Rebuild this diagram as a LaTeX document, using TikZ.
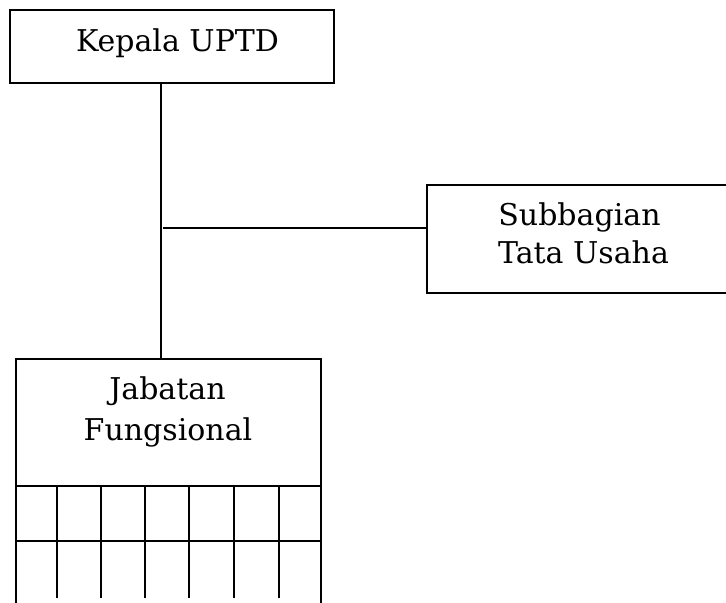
\documentclass[tikz,border=0pt]{standalone}
\usepackage{fontspec}
\setmainfont{DejaVu Serif}
\begin{document}
\begin{tikzpicture}[x=0.5pt,y=-0.5pt,
  box/.style={draw=black, line width=1pt, rectangle, inner sep=0pt},
  lbl/.style={font=\fontsize{15}{19}\selectfont, inner sep=0pt, anchor=base},
  conn/.style={draw=black, line width=1pt},
  grid/.style={draw=black, line width=1pt}]
\useasboundingbox (0,0) rectangle (726,603);
\clip (0,0) rectangle (726,603);
% boxes
\node[box, minimum width=162pt, minimum height=36.5pt] (kepala) at (172,46.5) {};
\node[box, minimum width=170pt, minimum height=54pt] (subbag) at (597,239) {};
\node[box, minimum width=152.5pt, minimum height=140.5pt] (jab) at (168.5,499.5) {};
% labels
\node[lbl] (kepalaT) at (177.5,52) {Kepala UPTD};
\node[lbl] (subT1) at (579.5,226) {Subbagian};
\node[lbl] (subT2) at (583.5,264) {Tata Usaha};
\node[lbl] (jabT1) at (167.5,399) {Jabatan};
\node[lbl] (jabT2) at (168,440) {Fungsional};
% grid inside Jabatan Fungsional
\coordinate (g1) at (0,486);
\coordinate (g2) at (0,541);
\draw[grid] (jab.west |- g1) -- (jab.east |- g1);
\draw[grid] (jab.west |- g2) -- (jab.east |- g2);
\foreach \x in {57,101,145,189,234,279}
  \draw[grid] (\x,486) -- (\x,598);
% connectors
\coordinate (spine) at (161,228);
\draw[conn] (spine |- kepala.south) -- (spine |- jab.north);
\draw[conn] ([xshift=1pt]spine) -- (spine -| subbag.west);
\end{tikzpicture}
\end{document}
